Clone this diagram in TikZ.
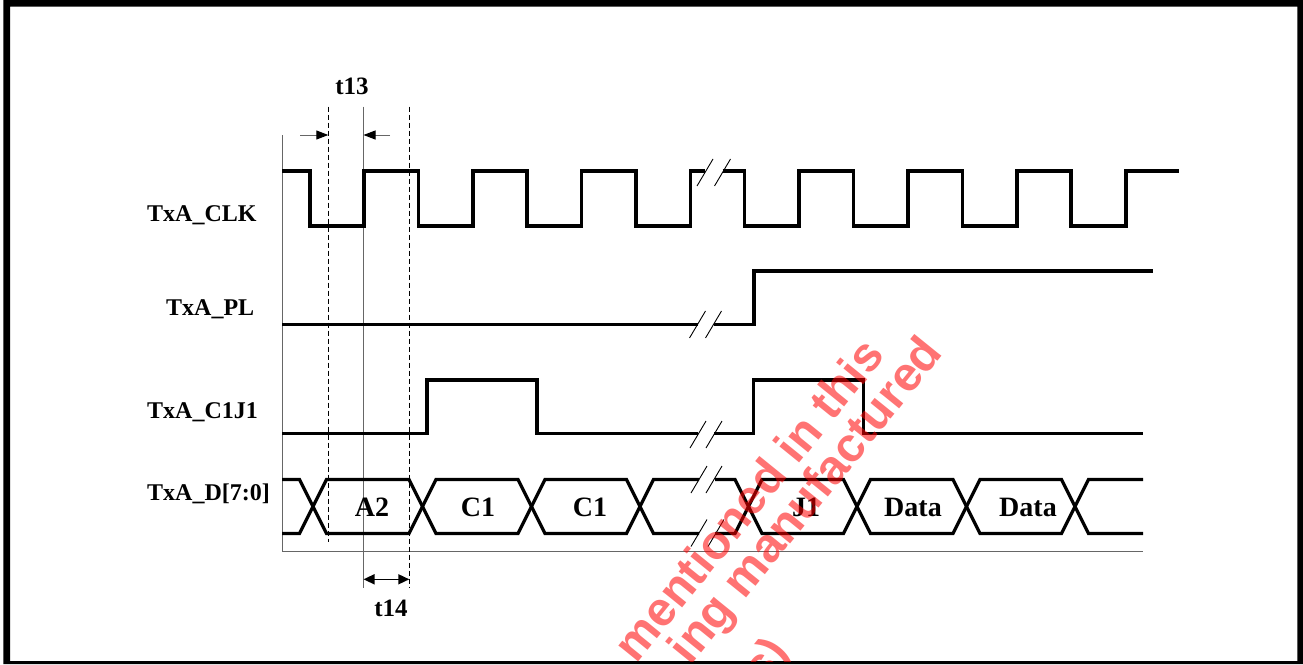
\documentclass[tikz,border=0pt]{standalone}
\usepackage{fontspec}
\setmainfont{Liberation Serif}
\newfontfamily\wmfont{Liberation Sans}
\usetikzlibrary{arrows.meta}
\newcommand\wbreak[2]{\draw[brkline] (#1-8,#2+13.5) -- ++(16,-27);}
\begin{document}
\begin{tikzpicture}[x=1pt,y=-1pt,
  wave/.style={line width=3.2pt, line join=miter, line cap=butt},
  brkline/.style={line width=0.9pt},
  guide/.style={black!60, line width=1pt},
  dashguide/.style={black, line width=0.9pt, dash pattern=on 5pt off 3pt},
  lbl/.style={font=\fontsize{24}{28}\selectfont\bfseries, inner sep=0pt},
  tlbl/.style={font=\fontsize{25}{29}\selectfont\bfseries, inner sep=0pt},
  cell/.style={font=\fontsize{28}{32}\selectfont\bfseries, inner sep=0pt},
  wm/.style={font=\wmfont\fontsize{48}{50}\selectfont\bfseries, text=red, text opacity=0.55, rotate=51, inner sep=0pt},
  tip/.style={-{Triangle[length=12pt,width=9pt,color=black]}},
]
\useasboundingbox (0,0) rectangle (1303,664);
% frame
\fill[even odd rule] (3.3,0) rectangle (1303,664) (10,6.7) rectangle (1297.3,661);

% signal labels
\node[lbl, anchor=base west] (lclk) at (147,221.7) {TxA\_CLK};
\node[lbl, anchor=base west] (lpl)  at (166,315) {TxA\_PL};
\node[lbl, anchor=base west] (lcj)  at (147,418.3) {TxA\_C1J1};
\node[lbl, anchor=base west] (ld)   at (147,500) {TxA\_D[7:0]};

% guide lines
\draw[guide] (282,135) -- (282,551.7) -- (1143,551.7);
\draw[guide] (363.5,106.7) -- (363.5,588.3);
\draw[dashguide] (328.3,106.7) -- (328.3,541.7);
\draw[dashguide] (409.3,106.7) -- (409.3,588.3);

% t13
\coordinate (a1s) at (300,135); \coordinate (a1e) at (328.3,135);
\coordinate (a2s) at (390,135); \coordinate (a2e) at (363.5,135);
\draw[guide, tip] (a1s) -- (a1e);
\draw[guide, tip] (a2s) -- (a2e);
\node[tlbl, anchor=base] (t13) at (352,94) {t13};

% t14
\coordinate (b1) at (363.5,579.3); \coordinate (b2) at (409.3,579.3);
\draw[line width=1.6pt, {Triangle[length=11pt,width=10pt]}-{Triangle[length=11pt,width=10pt]}] (b1) -- (b2);
\node[tlbl, anchor=base] (t14) at (391,616.7) {t14};

% TxA_CLK
\draw[wave] (282,171) -- (310,171) -- (310,226) -- (364,226) -- (364,171)
  -- (418.5,171) -- (418.5,226) -- (473,226) -- (473,171)
  -- (527,171) -- (527,226) -- (581.5,226) -- (581.5,171)
  -- (636,171) -- (636,226) -- (690.5,226) -- (690.5,171) -- (705,171);
\draw[wave] (722.5,171) -- (744.5,171) -- (744.5,226) -- (799,226) -- (799,171)
  -- (853.5,171) -- (853.5,226) -- (908,226) -- (908,171)
  -- (962.5,171) -- (962.5,226) -- (1017,226) -- (1017,171)
  -- (1071,171) -- (1071,226) -- (1126,226) -- (1126,171) -- (1179,171);
\wbreak{705}{172.5}\wbreak{722.5}{172.5}

% TxA_PL
\draw[wave] (282,324.5) -- (697.5,324.5);
\draw[wave] (713.5,324.5) -- (754,324.5) -- (754,271) -- (1153,271);
\wbreak{697.5}{324.5}\wbreak{713.5}{324.5}

% TxA_C1J1
\draw[wave] (282,433.5) -- (427,433.5) -- (427,380) -- (537,380) -- (537,433.5) -- (698,433.5);
\draw[wave] (714,433.5) -- (753.5,433.5) -- (753.5,380) -- (863.5,380) -- (863.5,433.5) -- (1143,433.5);
\wbreak{698}{434.5}\wbreak{714}{434.5}

% TxA_D[7:0]
\draw[wave] (282,479.5) -- (299.5,479.5) -- (326.5,533.5) -- (409,533.5) -- (436,479.5)
  -- (518,479.5) -- (545,533.5) -- (626.5,533.5) -- (653.5,479.5) -- (699,479.5);
\draw[wave] (282,533.5) -- (299.5,533.5) -- (326.5,479.5) -- (409,479.5) -- (436,533.5)
  -- (518,533.5) -- (545,479.5) -- (626.5,479.5) -- (653.5,533.5) -- (699,533.5);
\draw[wave] (715,479.5) -- (735,479.5) -- (762,533.5) -- (843.5,533.5) -- (870.5,479.5)
  -- (953,479.5) -- (980,533.5) -- (1061.5,533.5) -- (1088.5,479.5) -- (1143,479.5);
\draw[wave] (715,533.5) -- (735,533.5) -- (762,479.5) -- (843.5,479.5) -- (870.5,533.5)
  -- (953,533.5) -- (980,479.5) -- (1061.5,479.5) -- (1088.5,533.5) -- (1143,533.5);
\wbreak{699}{479.5}\wbreak{714}{479.5}
\wbreak{699}{533}\wbreak{716}{533}

\node[cell, anchor=base] (dA2) at (372,516) {A2};
\node[cell, anchor=base] (dC1a) at (478,516) {C1};
\node[cell, anchor=base] (dC1b) at (590,516) {C1};
\node[cell, anchor=base] (dJ1) at (806,516) {J1};
\node[cell, anchor=base] (dDa) at (913,516) {Data};
\node[cell, anchor=base] (dDb) at (1028,516) {Data};

% watermark
\begin{scope}
\clip (10,6.7) rectangle (1297.3,661);
\node[wm, anchor=mid west] (wm1) at (634.6,663.5) {mentioned in this};
\node[wm, anchor=mid west] (wm2) at (689,665) {ing manufactured};
\node[wm, anchor=mid east] (wm3) at (790,652) {(s)};
\end{scope}
\end{tikzpicture}
\end{document}
